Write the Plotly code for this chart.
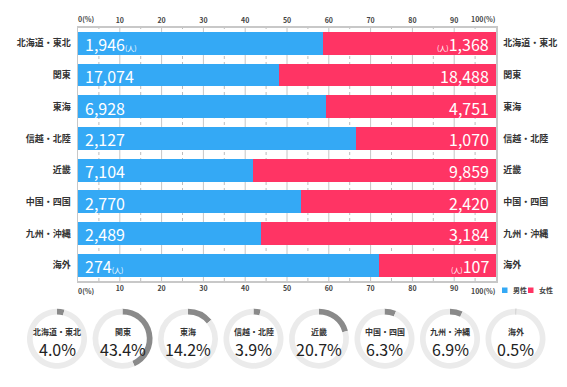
import plotly.graph_objects as go

regions = ["北海道・東北", "関東", "東海", "信越・北陸", "近畿", "中国・四国", "九州・沖縄", "海外"]
male = [1946, 17074, 6928, 2127, 7104, 2770, 2489, 274]
female = [1368, 18488, 4751, 1070, 9859, 2420, 3184, 107]
share_pct = [4.0, 43.4, 14.2, 3.9, 20.7, 6.3, 6.9, 0.5]
tick_vals = [0, 10, 20, 30, 40, 50, 60, 70, 80, 90, 100]
tick_text = ["", "10", "20", "30", "40", "50", "60", "70", "80", "90", ""]
minor_vals = [5, 15, 25, 35, 45, 55, 65, 75, 85, 95]
edge_ticks = {0: "0(%)", 100: "100(%)"}
legend_names = ["男性", "女性"]

BLUE = "#34A9F5"
RED = "#FF3464"
JP = "Noto Sans CJK JP"
W, H = 567, 387
n = len(regions)
rows = list(range(n))
y_range = [n - 0.5, -0.5]

male_pct = [m / (m + f) * 100 for m, f in zip(male, female)]
female_pct = [100 - p for p in male_pct]

# plot area in pixels
X0, X1 = 78, 496
Y0, Y1 = 27.5, 281
xdom = [X0 / W, X1 / W]
ydom = [(H - Y1) / H, (H - Y0) / H]

fig = go.Figure()
fig.add_bar(y=rows, x=male_pct, orientation="h", marker=dict(color=BLUE, line=dict(width=0)),
            name=legend_names[0], showlegend=False, width=0.72, hoverinfo="skip")
fig.add_bar(y=rows, x=female_pct, orientation="h", marker=dict(color=RED, line=dict(width=0)),
            name=legend_names[1], showlegend=False, width=0.72, hoverinfo="skip")
# invisible traces so the top and right axes are drawn
fig.add_scatter(x=[0, 100], y=[0, 0], xaxis="x2", yaxis="y", mode="markers",
                marker=dict(opacity=0), showlegend=False, hoverinfo="skip")
fig.add_scatter(x=[0, 0], y=[0, n - 1], xaxis="x", yaxis="y2",
                mode="markers", marker=dict(opacity=0), showlegend=False, hoverinfo="skip")

annotations = []
shapes = []

# vertical grid lines inside the plot, below the bars
for v in tick_vals[1:-1]:
    shapes.append(dict(type="line", xref="x", yref="y", x0=v, x1=v, y0=y_range[0], y1=y_range[1],
                       line=dict(color="#c6c6c6", width=1), layer="below"))
for v in minor_vals:
    shapes.append(dict(type="line", xref="x", yref="y", x0=v, x1=v, y0=y_range[0], y1=y_range[1],
                       line=dict(color="#bcbcbc", width=1, dash="dot"), layer="below"))

for i, (m, f) in enumerate(zip(male, female)):
    unit = (i == 0 or i == n - 1)
    mt = f"{m:,}" + ("<span style='font-size:7px'>(人)</span>" if unit else "")
    ft = ("<span style='font-size:7px'>(人)</span>" if unit else "") + f"{f:,}"
    annotations.append(dict(x=0, y=i, xref="x", yref="y", text=mt, showarrow=False,
                            xanchor="left", yanchor="middle", xshift=5, yshift=-1,
                            font=dict(family=JP, size=16, color="white")))
    annotations.append(dict(x=100, y=i, xref="x", yref="y", text=ft, showarrow=False,
                            xanchor="right", yanchor="middle", xshift=-5, yshift=-1,
                            font=dict(family=JP, size=16, color="white")))

# edge tick labels (0(%) and 100(%)) top & bottom
tick_font = dict(family=JP, size=7, color="#444", weight="bold")
for v, t in edge_ticks.items():
    for yy, ya in [((H - Y0 + 2) / H, "bottom"), ((H - Y1 - 3) / H, "top")]:
        annotations.append(dict(x=v, y=yy, xref="x", yref="paper", text=t, showarrow=False,
                                xanchor="left" if v == 0 else "right", yanchor=ya,
                                xshift=-2 if v == 0 else 2, font=tick_font))

# donuts
cy = 338.7
R = 30
for i, (r, p) in enumerate(zip(regions, share_pct)):
    cx = 57 + 65.5 * i
    fig.add_pie(values=[p, 100 - p], sort=False, direction="clockwise", rotation=0,
                hole=0.81, marker=dict(colors=["#8a8a8a", "#ebebeb"], line=dict(width=0)),
                textinfo="none", hoverinfo="skip", showlegend=False,
                domain=dict(x=[(cx - R) / W, (cx + R) / W], y=[(H - cy - R) / H, (H - cy + R) / H]))
    annotations.append(dict(x=cx / W, y=(H - 331) / H, xref="paper", yref="paper", text=r,
                            showarrow=False, xanchor="center", yanchor="middle",
                            font=dict(family=JP, size=8, color="#333", weight="bold")))
    annotations.append(dict(x=cx / W, y=(H - 348.5) / H, xref="paper", yref="paper", text=f"{p:.1f}%",
                            showarrow=False, xanchor="center", yanchor="middle",
                            font=dict(family=JP, size=16, color="#222")))

# legend (manual)
lx = [502, 528]
for k, (nm, col) in enumerate(zip(legend_names, [BLUE, RED])):
    shapes.append(dict(type="rect", xref="paper", yref="paper",
                       x0=lx[k] / W, x1=(lx[k] + 5.5) / W, y0=(H - 293) / H, y1=(H - 287.5) / H,
                       fillcolor=col, line=dict(width=0)))
    annotations.append(dict(x=(lx[k] + 8.5) / W, y=(H - 290.3) / H, xref="paper", yref="paper",
                            text=nm, showarrow=False, xanchor="left", yanchor="middle",
                            font=dict(family=JP, size=7, color="#444", weight="bold")))

axis_common = dict(range=[0, 100], autorange=False, tickvals=tick_vals, ticktext=tick_text,
                   tickfont=tick_font, showline=True, linecolor="#c8c8c8", linewidth=1.5,
                   ticks="", fixedrange=True, automargin=False, zeroline=False, showgrid=False)
yaxis_common = dict(domain=ydom, range=y_range, autorange=False, tickvals=rows, ticktext=regions,
                    showline=True, linecolor="#c8c8c8", linewidth=1.5, ticks="", showgrid=False,
                    zeroline=False, automargin=False, fixedrange=True,
                    tickfont=dict(family=JP, size=9, color="#333", weight="bold"), ticklabelstandoff=4,
                    anchor="x")

fig.update_layout(
    template="none",
    width=W, height=H, margin=dict(l=0, r=0, t=0, b=0, autoexpand=False),
    paper_bgcolor="white", plot_bgcolor="rgba(0,0,0,0)",
    barmode="stack",
    font=dict(family=JP),
    xaxis=dict(domain=xdom, side="bottom", anchor="y", **axis_common),
    xaxis2=dict(domain=xdom, side="top", anchor="y", overlaying="x", **axis_common),
    yaxis=dict(side="left", **yaxis_common),
    yaxis2=dict(side="right", overlaying="y", **yaxis_common),
    annotations=annotations, shapes=shapes,
)

fig.write_html("out.html", config={"displayModeBar": False, "staticPlot": True},
               post_script="document.body.style.margin='0';document.body.style.overflow='hidden';")
